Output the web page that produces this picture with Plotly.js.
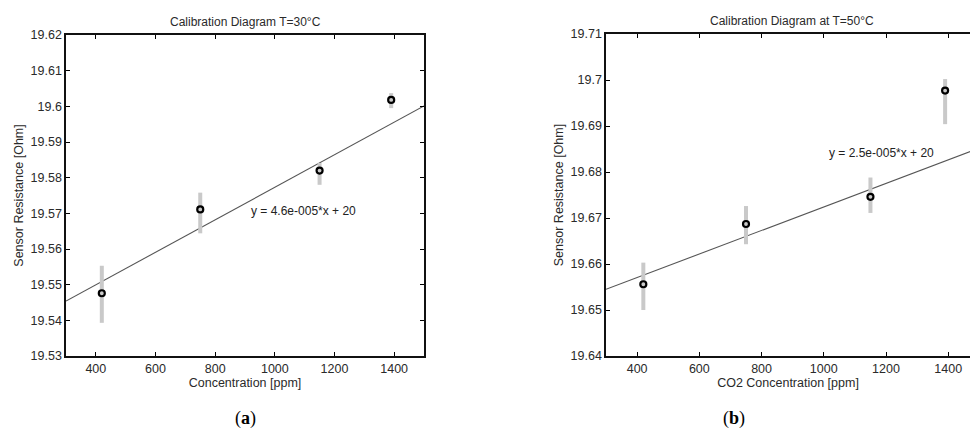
<!DOCTYPE html>
<html>
<head>
<meta charset="utf-8">
<script src="https://cdn.plot.ly/plotly-3.0.1.min.js"></script>
<style>
html,body{margin:0;padding:0;background:#fff;overflow:hidden;}
#chart{width:970px;height:432px;}
</style>
</head>
<body>
<div id="chart"></div>
<script>
// ---- data ----
const concentration = [420, 750, 1150, 1390];

const resistance30 = [19.5476, 19.5711, 19.5820, 19.6018];
const err30Plus   = [0.0077, 0.0047, 0.0021, 0.0019];
const err30Minus  = [0.0083, 0.0067, 0.0040, 0.0023];
const fit30X = [300, 1500];
const fit30Y = [19.5454, 19.6001];
const fit30Label = 'y = 4.6e-005*x + 20';

const resistance50 = [19.6556, 19.6687, 19.6746, 19.6977];
const err50Plus   = [0.0047, 0.0039, 0.0042, 0.0025];
const err50Minus  = [0.0056, 0.0044, 0.0035, 0.0073];
const fit50X = [300, 1500];
const fit50Y = [19.6545, 19.6852];
const fit50Label = 'y = 2.5e-005*x + 20';

const xTickVals = [400, 600, 800, 1000, 1200, 1400];
const xTickText = ['400', '600', '800', '1000', '1200', '1400'];
const yTickVals30 = [19.53, 19.54, 19.55, 19.56, 19.57, 19.58, 19.59, 19.60, 19.61, 19.62];
const yTickText30 = ['19.53', '19.54', '19.55', '19.56', '19.57', '19.58', '19.59', '19.6', '19.61', '19.62'];
const yTickVals50 = [19.64, 19.65, 19.66, 19.67, 19.68, 19.69, 19.70, 19.71];
const yTickText50 = ['19.64', '19.65', '19.66', '19.67', '19.68', '19.69', '19.7', '19.71'];

const titles = ['Calibration Diagram T=30°C', 'Calibration Diagram at T=50°C'];
const xTitles = ['Concentration [ppm]', 'CO2 Concentration [ppm]'];
const yTitle = 'Sensor Resistance [Ohm]';
const captions = ['(<b>a</b>)', '(<b>b</b>)'];

// ---- styles ----
const FONT = 'Liberation Sans, Arial, sans-serif';
const TXT = '#2a2a2a';
const ERRCOL = '#c9c9c9';

function pointTrace(y, plus, minus, xa, ya) {
  return {
    x: concentration, y: y, xaxis: xa, yaxis: ya,
    type: 'scatter', mode: 'markers',
    marker: {symbol: 'circle-open', size: 6, color: '#000', line: {width: 2.2, color: '#000'}},
    error_y: {type: 'data', symmetric: false, array: plus, arrayminus: minus,
              color: ERRCOL, thickness: 4, width: 0},
    showlegend: false, hoverinfo: 'x+y'
  };
}
function fitTrace(x, y, xa, ya) {
  return {x: x, y: y, xaxis: xa, yaxis: ya, type: 'scatter', mode: 'lines',
          line: {color: '#555', width: 1.1}, showlegend: false, cliponaxis: true};
}

const traces = [
  fitTrace(fit30X, fit30Y, 'x', 'y'),
  pointTrace(resistance30, err30Plus, err30Minus, 'x', 'y'),
  fitTrace(fit50X, fit50Y, 'x2', 'y2'),
  pointTrace(resistance50, err50Plus, err50Minus, 'x2', 'y2')
];

function xAxis(domain, range, title, anchor, mirror) {
  return {
    domain: domain, range: range, anchor: anchor,
    tickmode: 'array', tickvals: xTickVals, ticktext: xTickText,
    ticks: 'inside', ticklen: 4, tickwidth: 1, tickcolor: '#000',
    showline: true, linecolor: '#111', linewidth: 1.6, mirror: mirror,
    showgrid: false, zeroline: false,
    tickfont: {family: FONT, size: 12.5, color: TXT},
    title: {text: title, font: {family: FONT, size: 12.5, color: TXT}, standoff: 3}
  };
}
function yAxis(domain, range, vals, text, anchor, mirror) {
  return {
    domain: domain, range: range, anchor: anchor,
    tickmode: 'array', tickvals: vals, ticktext: text,
    ticks: 'inside', ticklen: 4, tickwidth: 1, tickcolor: '#000',
    showline: true, linecolor: '#111', linewidth: 1.6, mirror: mirror,
    showgrid: false, zeroline: false,
    tickfont: {family: FONT, size: 12.5, color: TXT},
    title: {text: yTitle, font: {family: FONT, size: 12.5, color: TXT}, standoff: 4}
  };
}

const layout = {
  width: 970, height: 432,
  margin: {l: 0, r: 0, t: 0, b: 0},
  paper_bgcolor: '#fff', plot_bgcolor: '#fff',
  xaxis: xAxis([66/970, 424/970], [300, 1500], xTitles[0], 'y', 'ticks'),
  yaxis: yAxis([1-356/432, 1-35/432], [19.53, 19.62], yTickVals30, yTickText30, 'x', 'ticks'),
  xaxis2: xAxis([606/970, 1], [300, 1470], xTitles[1], 'y2', 'ticks'),
  yaxis2: yAxis([1-356/432, 1-34/432], [19.64, 19.71], yTickVals50, yTickText50, 'x2', false),
  annotations: [
    {text: titles[0], xref: 'paper', yref: 'paper', x: 245/970, y: 1-22/432,
     showarrow: false, font: {family: FONT, size: 12, color: TXT}, xanchor: 'center', yanchor: 'middle'},
    {text: titles[1], xref: 'paper', yref: 'paper', x: 792/970, y: 1-21/432,
     showarrow: false, font: {family: FONT, size: 12, color: TXT}, xanchor: 'center', yanchor: 'middle'},
    {text: fit30Label, xref: 'x', yref: 'y', x: 1097, y: 19.5707,
     showarrow: false, font: {family: FONT, size: 12, color: '#222'}},
    {text: fit50Label, xref: 'x2', yref: 'y2', x: 1184, y: 19.6841,
     showarrow: false, font: {family: FONT, size: 12, color: '#222'}},
    {text: captions[0], xref: 'paper', yref: 'paper', x: 234/970, y: 2/432,
     showarrow: false, font: {family: 'Liberation Serif, serif', size: 18, color: '#000'},
     yanchor: 'bottom', borderpad: 0},
    {text: captions[1], xref: 'paper', yref: 'paper', x: 746/970, y: 2/432,
     showarrow: false, font: {family: 'Liberation Serif, serif', size: 18, color: '#000'},
     yanchor: 'bottom', borderpad: 0}
  ]
};

Plotly.newPlot('chart', traces, layout, {displayModeBar: false, staticPlot: true});
</script>
</body>
</html>
